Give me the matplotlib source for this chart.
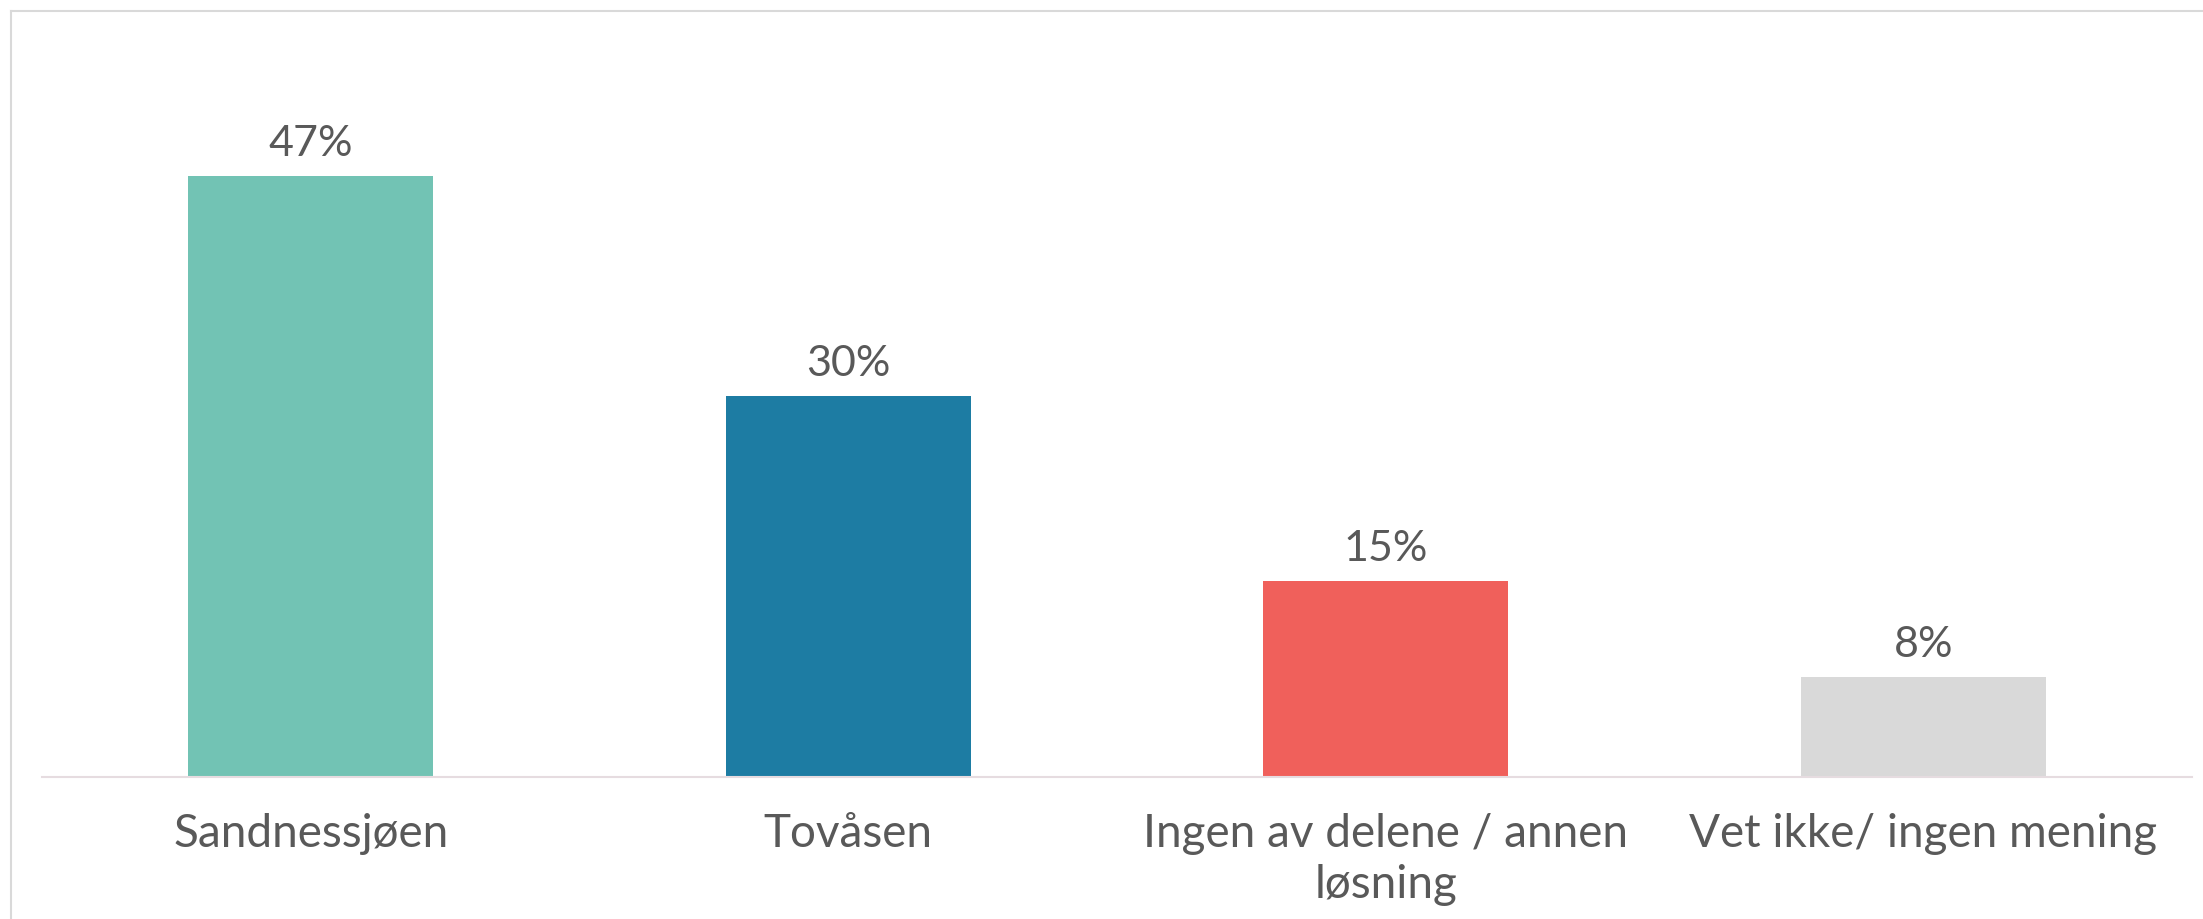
import numpy as np
import matplotlib.pyplot as plt
from matplotlib.lines import Line2D

# survey answers (share of respondents, %)
categories = ['Sandnessjøen', 'Tovåsen', 'Ingen av delene / annen\nløsning', 'Vet ikke/ ingen mening']
values = [47.2, 29.9, 15.4, 7.8]
value_labels = ['47%', '30%', '15%', '8%']
colors = ['#72C3B4', '#1D7CA3', '#F0605B', '#D9D9D9']

text_col = '#595959'
font = 'Lato'

W, H = 2203, 919
fig = plt.figure(figsize=(W / 100, H / 100), dpi=100)
ax = fig.add_axes([42 / W, 142.5 / H, 2150 / W, 636 / H])

x = np.arange(len(categories))
ax.bar(x, values, width=0.456, color=colors)

for xi, v, lab in zip(x, values, value_labels):
    ax.annotate(lab, xy=(xi, v), xytext=(0, 14.4), textcoords='offset points',
                ha='center', va='baseline', fontsize=31, color=text_col, family=font)

ax.set_xlim(-0.5, 3.5)
ax.set_ylim(0, 50)
ax.set_xticks(x)
ax.set_xticklabels(categories, fontsize=33, color=text_col, family=font,
                   linespacing=1.28)
ax.tick_params(axis='x', length=0, pad=26)
for t in ax.get_xticklabels():
    t.set_va('top')
    t.set_multialignment('center')
ax.set_yticks([])

for s in ['top', 'left', 'right']:
    ax.spines[s].set_visible(False)
ax.spines['bottom'].set_color('#E6DCE0')
ax.spines['bottom'].set_linewidth(1.5)

# thin frame on the left and top edge of the picture
fig.add_artist(Line2D([11 / W, 11 / W], [0, 1 - 11 / H], color='#D9D9D9', lw=1.5))
fig.add_artist(Line2D([11 / W, 1], [1 - 11 / H, 1 - 11 / H], color='#D9D9D9', lw=1.5))

fig.savefig('out.png', dpi=100, facecolor='white')
